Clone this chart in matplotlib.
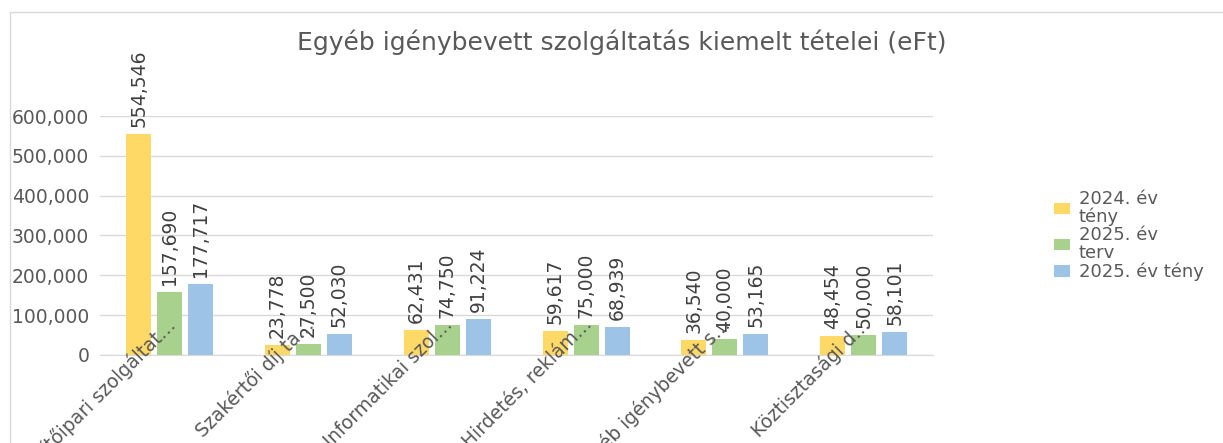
import numpy as np
import matplotlib.pyplot as plt
from matplotlib.ticker import FuncFormatter
import matplotlib.transforms as mtransforms

categories = ["Építőipari szolgáltat…", "Szakértői díj ta…", "Informatikai szol…",
              "Hirdetés, reklám…", "Egyéb igénybevett s…", "Köztisztasági d…"]
fact_2024 = [554546, 23778, 62431, 59617, 36540, 48454]
plan_2025 = [157690, 27500, 74750, 75000, 40000, 50000]
fact_2025 = [177717, 52030, 91224, 68939, 53165, 58101]
series_names = ["2024. év\ntény", "2025. év\nterv", "2025. év tény"]
colors = ["#FFD966", "#A9D18E", "#9DC3E6"]

txt = "#595959"
fig = plt.figure(figsize=(12.23, 4.43), dpi=100)
ax = fig.add_axes([0.082, 0.199, 0.681, 0.539])

x = np.arange(len(categories))
width = 0.18
step = 0.223
for i, (vals, name, c) in enumerate(zip([fact_2024, plan_2025, fact_2025], series_names, colors)):
    pos = x + (i - 1) * step
    bars = ax.bar(pos, vals, width=width, color=c, label=name, zorder=3)
    for b, v in zip(bars, vals):
        ax.annotate(f"{v:,}", (b.get_x() + b.get_width() / 2, v), xytext=(0, 5),
                    textcoords="offset points", rotation=90, ha="center", va="bottom",
                    fontsize=13.5, color="#404040", annotation_clip=False, zorder=4)

ax.set_xlim(-0.5, len(categories) - 0.5)
ax.set_ylim(0, 600000)
ax.set_yticks(np.arange(0, 600001, 100000))
ax.yaxis.set_major_formatter(FuncFormatter(lambda v, p: f"{int(v):,}"))
ax.tick_params(axis="y", length=0, labelsize=13.5, labelcolor=txt, pad=8)
ax.set_xticks([])
ax.grid(axis="y", color="#D9D9D9", linewidth=1, zorder=0)
for s in ["top", "right", "left"]:
    ax.spines[s].set_visible(False)
ax.spines["bottom"].set_color("#D9D9D9")

# rotated category labels (overlapping the bars, as in the original)
trans = mtransforms.blended_transform_factory(ax.transData, ax.transAxes)
for xi, lab in zip(x, categories):
    off = mtransforms.offset_copy(trans, fig=fig, x=2, y=24, units="points")
    ax.text(xi, 0, lab, transform=off, rotation=45, rotation_mode="anchor",
            ha="right", va="center", fontsize=13.5, color=txt, zorder=5, clip_on=False)

fig.text(0.508, 0.905, "Egyéb igénybevett szolgáltatás kiemelt tételei (eFt)",
         ha="center", va="center", fontsize=18, color=txt)

leg = ax.legend(loc="center left", bbox_to_anchor=(1.125, 0.5), frameon=False, fontsize=13,
                labelcolor=txt, handlelength=0.9, handleheight=0.6, handletextpad=0.5,
                labelspacing=0.05)
for t in leg.get_texts():
    t.set_linespacing(0.95)

fig.patches.append(plt.Rectangle((0.008, -0.1), 1.1, 1.073, transform=fig.transFigure,
                                 fill=False, edgecolor="#D9D9D9", linewidth=1))

fig.savefig("out.png", dpi=100)
